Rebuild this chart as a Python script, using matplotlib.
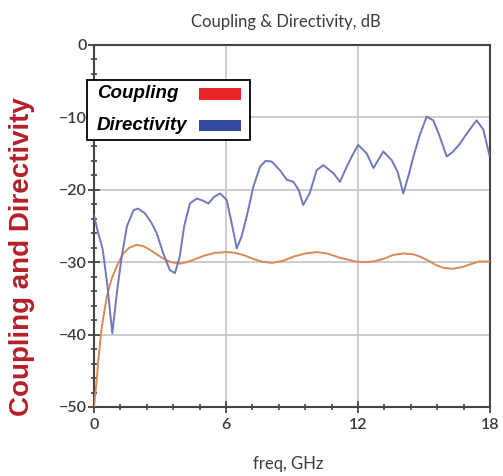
import numpy as np
import matplotlib.pyplot as plt
from matplotlib.patches import Rectangle
from matplotlib.ticker import MultipleLocator

# Directivity (blue)
f_dir = [0.0, 0.15, 0.4, 0.6, 0.83, 1.05, 1.26, 1.5, 1.8, 2.0, 2.3, 2.6, 2.85, 3.15,
         3.45, 3.68, 3.9, 4.1, 4.36, 4.67, 4.95, 5.2, 5.45, 5.73, 6.03, 6.25, 6.49,
         6.7, 6.94, 7.25, 7.55, 7.8, 8.08, 8.45, 8.76, 9.06, 9.3, 9.51, 9.8, 10.12,
         10.42, 10.88, 11.18, 11.49, 11.75, 12.01, 12.4, 12.7, 12.9, 13.15, 13.53,
         13.8, 14.06, 14.3, 14.52, 14.8, 15.12, 15.42, 15.7, 16.03, 16.3, 16.64,
         17.0, 17.39, 17.7, 17.97]
d_dir = [-23.5, -25.5, -28.3, -33.0, -39.8, -34.0, -29.2, -25.0, -22.8, -22.6, -23.2,
         -24.5, -26.0, -28.8, -31.1, -31.5, -29.2, -25.0, -21.9, -21.2, -21.5, -21.9,
         -21.0, -20.5, -21.4, -24.5, -28.1, -26.5, -23.7, -19.5, -16.8, -16.0, -16.1,
         -17.3, -18.6, -18.9, -20.0, -22.1, -20.5, -17.3, -16.6, -17.7, -18.9, -16.8,
         -15.2, -13.8, -15.0, -17.0, -16.0, -14.7, -15.9, -17.5, -20.5, -18.0, -15.4,
         -12.5, -9.9, -10.4, -12.5, -15.4, -14.8, -13.6, -12.0, -10.4, -11.7, -15.2]

# Coupling (orange)
f_cpl = [0.0, 0.1, 0.2, 0.35, 0.58, 0.8, 1.03, 1.33, 1.6, 1.94, 2.25, 2.55, 2.85,
         3.15, 3.5, 3.9, 4.2, 4.5, 5.0, 5.5, 6.03, 6.4, 6.79, 7.2, 7.6, 8.08, 8.6,
         9.1, 9.6, 10.12, 10.6, 11.2, 11.9, 12.3, 12.7, 13.2, 13.6, 14.06, 14.5,
         14.8, 15.2, 15.55, 15.9, 16.3, 16.7, 17.1, 17.5, 18.0]
d_cpl = [-50.0, -47.0, -43.5, -39.0, -34.8, -32.3, -30.6, -28.8, -28.0, -27.6, -27.8,
         -28.3, -28.9, -29.5, -30.0, -30.2, -30.0, -29.7, -29.1, -28.7, -28.6, -28.7,
         -29.0, -29.5, -29.9, -30.1, -29.8, -29.2, -28.8, -28.6, -28.8, -29.4, -29.9,
         -30.0, -29.9, -29.5, -29.0, -28.8, -28.9, -29.2, -29.8, -30.4, -30.8, -30.9,
         -30.7, -30.3, -29.9, -29.9]

labels = ['Coupling', 'Directivity']
leg_colors = ['#e8262a', '#3449a0']

W, H = 503, 476
fig = plt.figure(figsize=(W / 100, H / 100), dpi=100)
ax = fig.add_axes([94 / W, 1 - 407 / H, (490 - 94) / W, (407 - 45) / H])

ax.plot(f_cpl, d_cpl, color='#d98a55', lw=1.4, zorder=3)
ax.plot(f_dir, d_dir, color='#7078b8', lw=1.4, zorder=3)

ax.set_xlim(0, 18)
ax.set_ylim(-50, 0)
ax.xaxis.set_major_locator(MultipleLocator(6))
ax.xaxis.set_minor_locator(MultipleLocator(1.2))
ax.yaxis.set_major_locator(MultipleLocator(10))
ax.yaxis.set_minor_locator(MultipleLocator(2))
ax.grid(True, which='major', color='#c8c8c8', lw=1.3)
ax.tick_params(which='major', direction='inout', length=8, width=1.3, color='#444444',
               labelsize=11.5, labelcolor='#3a3a3a')
ax.tick_params(which='minor', direction='inout', length=5, width=1.2, color='#444444')
ax.tick_params(axis='y', pad=1)
ax.tick_params(axis='x', pad=4)
for s in ax.spines.values():
    s.set_color('#444444')
    s.set_linewidth(1.5)
for lab in ax.get_xticklabels() + ax.get_yticklabels():
    lab.set_family('Lato')
    lab.set_fontweight('semibold')

# legend box drawn by hand: text on the left, colour bar on the right
ftr = fig.transFigure
fig.patches.append(Rectangle((87 / W, 1 - 140 / H), 163 / W, 60 / H, transform=ftr,
                             facecolor='white', edgecolor='black', lw=1.3, zorder=5))
for i, (lab, col) in enumerate(zip(labels, leg_colors)):
    yc = 94 + i * 31.5
    fig.text(97 / W, 1 - yc / H, lab, ha='left', va='center', fontsize=13.5,
             fontweight='bold', style='italic', family='Liberation Sans', zorder=6)
    fig.patches.append(Rectangle((199 / W, 1 - (yc + 5.5) / H), 42 / W, 11 / H,
                                 transform=ftr, facecolor=col, edgecolor='none', zorder=6))

fig.text(286 / W, 1 - 22 / H, 'Coupling & Directivity, dB', ha='center', va='center',
         fontsize=12, color='#3a3a3a', family='Lato')
fig.text(288 / W, 1 - 464 / H, 'freq, GHz', ha='center', va='center',
         fontsize=12, color='#3a3a3a', family='Lato')
fig.text(22 / W, 1 - 257 / H, 'Coupling and Directivity', rotation=90, ha='center',
         va='center', fontsize=20, fontweight='bold', color='#b5202a',
         family='Liberation Sans')

fig.savefig('out.png', dpi=100)
